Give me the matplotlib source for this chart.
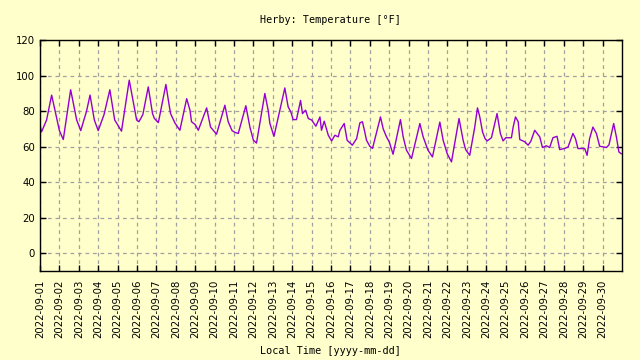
import numpy as np
import matplotlib
matplotlib.use('Agg')
import matplotlib.pyplot as plt
import matplotlib.dates as mdates

# time in days since 2022-09-01 00:00, temperature in F
days = [0.0, 0.08, 0.34, 0.6, 0.77, 1.0, 1.2, 1.58, 1.89, 2.1, 2.4, 2.58, 2.8, 3.0,
        3.3, 3.6, 3.85, 4.2, 4.6, 4.98, 5.1, 5.3, 5.58, 5.8, 5.9, 6.1, 6.49, 6.61,
        6.73, 6.95, 7.21, 7.56, 7.73, 7.81, 8.0, 8.16, 8.59, 8.79, 9.1, 9.53, 9.7,
        9.9, 10.05, 10.22, 10.61, 10.82, 11.0, 11.16, 11.59, 11.76, 11.85, 12.06,
        12.62, 12.79, 12.93, 13.05, 13.22, 13.43, 13.53, 13.69, 13.83, 14.0, 14.22,
        14.43, 14.51, 14.65, 14.86, 15.03, 15.2, 15.37, 15.46, 15.68, 15.83, 16.1,
        16.32, 16.49, 16.62, 16.74, 16.83, 17.0, 17.14, 17.55, 17.69, 17.86, 18.0,
        18.2, 18.58, 18.72, 18.89, 19.15, 19.58, 19.75, 20.0, 20.23, 20.61, 20.78,
        20.99, 21.21, 21.6, 21.81, 21.94, 22.15, 22.41, 22.55, 22.67, 22.81, 22.94,
        23.05, 23.27, 23.44, 23.56, 23.73, 23.87, 24.01, 24.3, 24.39, 24.51, 24.65,
        24.73, 24.99, 25.16, 25.3, 25.5, 25.76, 25.9, 26.1, 26.27, 26.44, 26.65,
        26.79, 27.05, 27.22, 27.47, 27.6, 27.73, 28.08, 28.2, 28.33, 28.5, 28.68,
        28.85, 29.2, 29.33, 29.57, 29.71, 29.84, 29.96]
temps = [71.7, 68.3, 75, 89, 80.5, 69, 64, 92, 75, 69, 80, 89, 75, 69,
         78, 92, 75, 68.7, 97.4, 75, 74, 78, 93.6, 78.6, 75.8, 73.5, 95, 86.5,
         78.6, 73.4, 69.2, 87, 80.5, 74, 72.4, 69.2, 81.8, 71, 67, 83.3, 74,
         69, 68, 67.4, 83, 71, 63.6, 62, 89.9, 80.5, 73, 65.8,
         93, 82.4, 79.5, 75.2, 75.2, 86, 78.6, 80.5, 75.8, 75, 71.5,
         76.7, 69.2, 74.3, 66.4, 63.2, 66.4, 65.5, 69.2, 73, 63.6, 60.8,
         64.5, 73.4, 74, 68.3, 63.6, 60.2, 59, 76.7, 70, 65.5, 62.7,
         55.7, 75.2, 65.5, 58, 53.3, 73, 65.5, 58, 54.2, 73.8, 63.6,
         56, 51.4, 75.8, 63.6, 58.3, 55.1, 71, 81.8, 76.7, 68.3, 64.5,
         63.2, 65, 73, 78.6, 67.4, 63.2, 65, 65, 71, 76.7, 74,
         64, 62.7, 60.8, 63, 69.2, 65.5, 59.5, 60.5, 59.5, 65, 65.8,
         58.3, 59, 59.8, 67.4, 64.5, 58.9, 58.9, 55.1, 64.5, 71, 67.4,
         60.2, 59.5, 61, 73, 65.5, 57, 56]

title = 'Herby: Temperature [°F]'
xlabel = 'Local Time [yyyy-mm-dd]'
yticks = [0, 20, 40, 60, 80, 100, 120]

start = np.datetime64('2022-09-01T00:00')
times = start + (np.array(days) * 86400).astype('timedelta64[s]')

bg = '#ffffcc'
fig = plt.figure(figsize=(6.4, 3.6), dpi=100, facecolor=bg)
ax = fig.add_axes([40 / 640, 1 - 271 / 360, 582 / 640, 231 / 360])
ax.set_facecolor(bg)

ax.plot(times, temps, color='#9400d3', linewidth=1.0)

ax.set_xlim(np.datetime64('2022-09-01'), np.datetime64('2022-10-01'))
ax.set_ylim(-10, 120)
ax.set_yticks(yticks)
ax.xaxis.set_major_locator(mdates.DayLocator())
ax.xaxis.set_major_formatter(mdates.DateFormatter('%Y-%m-%d'))
ax.set_xticks(ax.get_xticks()[:-1])

ax.grid(True, color='#a0a0a0', linestyle=(0, (3, 3)), linewidth=0.9)
ax.tick_params(axis='both', direction='in', length=4, width=1, top=True, right=True,
               labelsize=7.3, colors='black')
ax.tick_params(axis='x', pad=6)
for lbl in ax.get_xticklabels():
    lbl.set_rotation(90)
for s in ax.spines.values():
    s.set_linewidth(1.0)
    s.set_color('black')

fig.text(0.517, 1 - 20 / 360, title, ha='center', va='center',
         family='DejaVu Sans Mono', fontsize=7.3)
fig.text(0.517, 1 - 351 / 360, xlabel, ha='center', va='center',
         family='DejaVu Sans Mono', fontsize=7.3)

fig.savefig('out.png', dpi=100, facecolor=bg)
